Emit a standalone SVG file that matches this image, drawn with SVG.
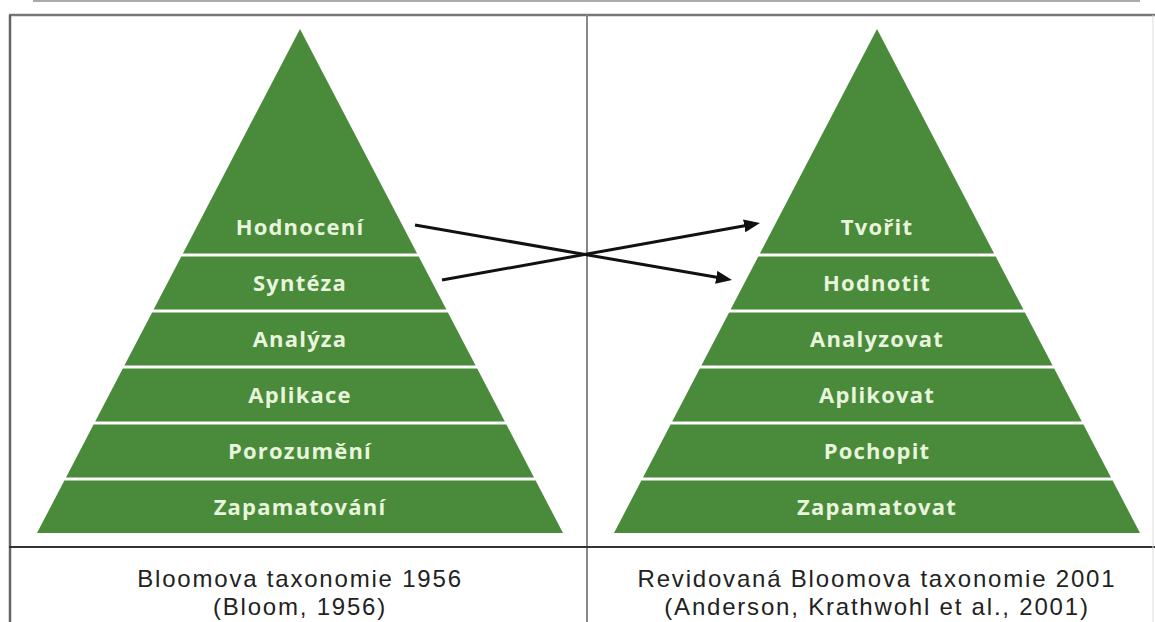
<svg xmlns="http://www.w3.org/2000/svg" width="1155" height="622" viewBox="0 0 1155 622">
  <style>
    .layer { fill: #4a8a3b; }
    .lbl { font-family: "Open Sans", "DejaVu Sans", sans-serif; font-weight: bold; font-size: 22px; fill: #e8f4dc; text-anchor: middle; letter-spacing: 1.2px; }
    .cap { font-family: "Liberation Sans", Arial, sans-serif; font-size: 24px; fill: #222; text-anchor: middle; letter-spacing: 1.8px; }
    .arrow { stroke: #111; stroke-width: 3; fill: none; marker-end: url(#ah); }
  </style>
  <defs>
    <marker id="ah" markerUnits="userSpaceOnUse" markerWidth="18" markerHeight="14" refX="2" refY="6.5" orient="auto">
      <path d="M0,0 L16,6.5 L0,13 z" fill="#111"/>
    </marker>
  </defs>
  <rect x="0" y="0" width="1155" height="622" fill="#ffffff"/>
  <g id="frame">
    <line x1="33" y1="1" x2="1140" y2="1" stroke="#aaaaaa" stroke-width="2"/>
    <line x1="9" y1="15" x2="1155" y2="15" stroke="#777777" stroke-width="2.5"/>
    <line x1="10" y1="15" x2="10" y2="622" stroke="#666666" stroke-width="2.5"/>
    <line x1="587" y1="15" x2="587" y2="622" stroke="#888888" stroke-width="2"/>
    <line x1="9" y1="547" x2="1155" y2="547" stroke="#333333" stroke-width="2"/>
    <line x1="1153" y1="15" x2="1153" y2="622" stroke="#dddddd" stroke-width="1"/>
  </g>
  <g id="pyramid-1956" transform="translate(300,0)">
    <g id="l-hodnoceni"><polygon class="layer" points="0,29 117.1,253.5 -117.1,253.5"/><text class="lbl" x="0" y="235">Hodnocení</text></g>
    <g id="l-synteza"><polygon class="layer" points="-118.7,256.5 118.7,256.5 146.4,309.5 -146.4,309.5"/><text class="lbl" x="0" y="291">Syntéza</text></g>
    <g id="l-analyza"><polygon class="layer" points="-147.9,312.5 147.9,312.5 175.6,365.5 -175.6,365.5"/><text class="lbl" x="0" y="347">Analýza</text></g>
    <g id="l-aplikace"><polygon class="layer" points="-177.2,368.5 177.2,368.5 204.8,421.5 -204.8,421.5"/><text class="lbl" x="0" y="403">Aplikace</text></g>
    <g id="l-porozumeni"><polygon class="layer" points="-206.4,424.5 206.4,424.5 234,477.5 -234,477.5"/><text class="lbl" x="0" y="459">Porozumění</text></g>
    <g id="l-zapamatovani"><polygon class="layer" points="-235.6,480.5 235.6,480.5 263,533 -263,533"/><text class="lbl" x="0" y="515">Zapamatování</text></g>
  </g>
  <g id="pyramid-2001" transform="translate(877,0)">
    <g id="r-tvorit"><polygon class="layer" points="0,29 117.1,253.5 -117.1,253.5"/><text class="lbl" x="0" y="235">Tvořit</text></g>
    <g id="r-hodnotit"><polygon class="layer" points="-118.7,256.5 118.7,256.5 146.4,309.5 -146.4,309.5"/><text class="lbl" x="0" y="291">Hodnotit</text></g>
    <g id="r-analyzovat"><polygon class="layer" points="-147.9,312.5 147.9,312.5 175.6,365.5 -175.6,365.5"/><text class="lbl" x="0" y="347">Analyzovat</text></g>
    <g id="r-aplikovat"><polygon class="layer" points="-177.2,368.5 177.2,368.5 204.8,421.5 -204.8,421.5"/><text class="lbl" x="0" y="403">Aplikovat</text></g>
    <g id="r-pochopit"><polygon class="layer" points="-206.4,424.5 206.4,424.5 234,477.5 -234,477.5"/><text class="lbl" x="0" y="459">Pochopit</text></g>
    <g id="r-zapamatovat"><polygon class="layer" points="-235.6,480.5 235.6,480.5 263,533 -263,533"/><text class="lbl" x="0" y="515">Zapamatovat</text></g>
  </g>
  <g id="connectors">
    <line class="arrow" x1="415" y1="225" x2="718.2" y2="277.6"/>
    <line class="arrow" x1="442" y1="280" x2="746.2" y2="225.5"/>
  </g>
  <g id="caption-1956">
    <text class="cap" x="300" y="587">Bloomova taxonomie 1956</text>
    <text class="cap" x="300" y="615">(Bloom, 1956)</text>
  </g>
  <g id="caption-2001">
    <text class="cap" x="877" y="587">Revidovaná Bloomova taxonomie 2001</text>
    <text class="cap" x="877" y="615">(Anderson, Krathwohl et al., 2001)</text>
  </g>
</svg>
